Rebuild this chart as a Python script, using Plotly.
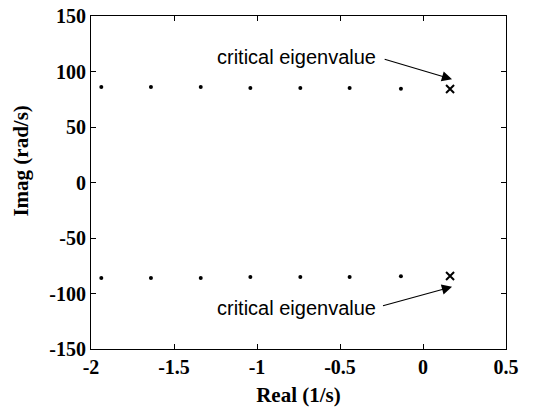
import plotly.graph_objects as go

# Eigenvalue data
real_stable = [-1.938, -1.639, -1.339, -1.040, -0.739, -0.442, -0.133]
imag_upper = [86.0, 86.0, 86.0, 85.1, 85.1, 85.1, 84.5]
imag_lower = [-86.0, -86.0, -86.0, -85.1, -85.1, -85.1, -84.5]
real_critical = [0.163, 0.163]
imag_critical = [84.2, -84.2]

x_ticks = [-2, -1.5, -1, -0.5, 0, 0.5]
x_tick_labels = ["-2", "-1.5", "-1", "-0.5", "0", "0.5"]
y_ticks = [-150, -100, -50, 0, 50, 100, 150]
y_tick_labels = ["-150", "-100", "-50", "0", "50", "100", "150"]

ann_text = "critical eigenvalue"
# annotation anchors (text right edge, arrow tail, arrow tip)
ann_text_pos = [(-0.27, 113.2), (-0.27, -113.2)]
ann_tail = [(-0.24, 111.4), (-0.25, -111.4)]
ann_tip = [(0.175, 93.0), (0.175, -94.0)]

SERIF = "Liberation Serif, Times New Roman, serif"

fig = go.Figure()
fig.add_trace(go.Scatter(x=real_stable + real_stable, y=imag_upper + imag_lower,
                         mode="markers", marker=dict(size=4, color="black"),
                         showlegend=False))
fig.add_trace(go.Scatter(x=real_critical, y=imag_critical, mode="markers",
                         marker=dict(symbol="x-thin", size=8, color="black",
                                     line=dict(width=2, color="black")),
                         showlegend=False))

for (tx, ty), (ax, ay), (hx, hy) in zip(ann_text_pos, ann_tail, ann_tip):
    fig.add_annotation(x=tx, y=ty, xref="x", yref="y", text=ann_text,
                       showarrow=False, xanchor="right", yanchor="middle",
                       font=dict(family="Liberation Sans, Arial", size=20, color="black"))
    fig.add_annotation(x=hx, y=hy, ax=ax, ay=ay, xref="x", yref="y",
                       axref="x", ayref="y", text="", showarrow=True,
                       arrowhead=2, arrowsize=1.7, arrowwidth=1.2, arrowcolor="black")

# y-axis title as rotated text (sits slightly above centre in the reference)
fig.add_annotation(x=-0.171, y=0.563, xref="paper", yref="paper", text="Imag (rad/s)",
                   showarrow=False, textangle=-90, xanchor="center", yanchor="middle",
                   font=dict(family=SERIF, size=21, color="black", weight="bold"))

axis_common = dict(showline=True, linecolor="black", linewidth=1, mirror="ticks",
                   ticks="inside", ticklen=5, tickcolor="black", showgrid=False,
                   zeroline=False, automargin=False,
                   tickfont=dict(family=SERIF, size=20, color="black", weight="bold"))

fig.update_xaxes(range=[-2, 0.5], tickvals=x_ticks, ticktext=x_tick_labels,
                 title=dict(text="Real (1/s)", standoff=10,
                            font=dict(family=SERIF, size=21, color="black", weight="bold")),
                 **axis_common)
fig.update_yaxes(range=[-150, 150], tickvals=y_ticks, ticktext=y_tick_labels,
                 **axis_common)

fig.update_layout(width=535, height=409, margin=dict(l=91, r=29, t=16, b=60),
                  plot_bgcolor="white", paper_bgcolor="white")

fig.write_html("out.html")
